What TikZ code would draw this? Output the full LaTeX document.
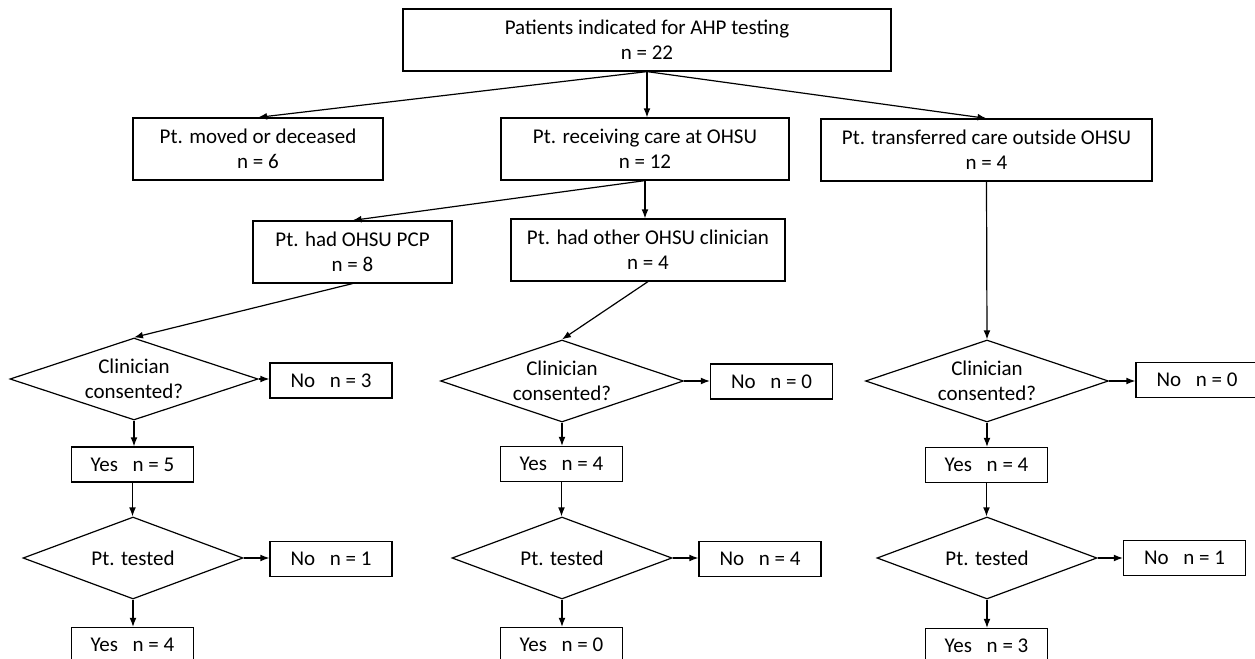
\documentclass[tikz,border=0pt]{standalone}
\usepackage{fontspec}
\setmainfont{Carlito}
\usetikzlibrary{shapes.geometric}
\usetikzlibrary{arrows.meta}

\tikzset{
  flowbox/.style={draw, line width=0.6pt, inner sep=0pt, align=center,
    minimum height=31pt, font=\fontsize{10.5}{12.5}\selectfont},
  smallbox/.style={draw, line width=0.6pt, inner sep=0pt,
    minimum width=61pt, minimum height=17.5pt, font=\fontsize{10.5}{12.5}\selectfont},
  decide/.style={draw, diamond, aspect=3, line width=0.6pt, inner sep=0pt, align=center,
    minimum height=41pt, font=\fontsize{10.5}{12.5}\selectfont},
}

\begin{document}
\begin{tikzpicture}[x=0.5pt,y=-0.5pt]
  \useasboundingbox (0,0) rectangle (1255,659);
  \begin{scope}[line width=0.6pt, >={Latex[length=4.5pt,width=3.4pt]}]
  \node[flowbox, minimum width=244pt] (all) at (647,40) {Patients indicated for AHP testing\\n = 22};
  \node[flowbox, minimum width=125pt] (moved) at (258,149) {Pt. moved or deceased\\n = 6};
  \node[flowbox, minimum width=144pt] (recv) at (645,149) {Pt. receiving care at OHSU\\n = 12};
  \node[flowbox, minimum width=165.5pt] (transf) at (986.5,150) {Pt. transferred care outside OHSU\\n = 4};
  \node[flowbox, minimum width=99.5pt] (pcp) at (352.5,252) {Pt. had OHSU PCP\\n = 8};
  \node[flowbox, minimum width=137pt] (other) at (648,250) {Pt. had other OHSU clinician\\n = 4};

  \node[decide, minimum width=124pt] (consL) at (134,379) {Clinician\\consented?};
  \node[decide, minimum width=121.5pt] (consM) at (562,381) {Clinician\\consented?};
  \node[decide, minimum width=121.5pt] (consR) at (987,381) {Clinician\\consented?};
  \node[smallbox] (noconsL) at (331,380.5) {No\hspace{0.7em}n = 3};
  \node[smallbox] (noconsM) at (771.5,381.5) {No\hspace{0.7em}n = 0};
  \node[smallbox] (noconsR) at (1197,380) {No\hspace{0.7em}n = 0};
  \node[smallbox] (yesconsL) at (132.5,464.5) {Yes\hspace{0.7em}n = 5};
  \node[smallbox] (yesconsM) at (561.5,464) {Yes\hspace{0.7em}n = 4};
  \node[smallbox] (yesconsR) at (986.5,465) {Yes\hspace{0.7em}n = 4};

  \node[decide, minimum width=110pt] (testL) at (133,558) {Pt. tested};
  \node[decide, minimum width=110pt] (testM) at (562,558) {Pt. tested};
  \node[decide, minimum width=110pt] (testR) at (987,558) {Pt. tested};
  \node[smallbox] (notestL) at (331,559) {No\hspace{0.7em}n = 1};
  \node[smallbox] (notestM) at (760,559) {No\hspace{0.7em}n = 4};
  \node[smallbox] (notestR) at (1184.5,558) {No\hspace{0.7em}n = 1};
  \node[smallbox] (yestestL) at (132.5,645) {Yes\hspace{0.7em}n = 4};
  \node[smallbox] (yestestM) at (561.5,645) {Yes\hspace{0.7em}n = 0};
  \node[smallbox] (yestestR) at (986.5,646) {Yes\hspace{0.7em}n = 3};

  \draw[->] (all.south) -- (moved.north);
  \draw[->] (all.south) -- (all.south |- recv.north);
  \draw[->] (all.south) -- (transf.north);
  \draw[->] (recv.south) -- (pcp.north);
  \draw[->] (recv.south) -- (recv.south |- other.north);
  \draw[->] (pcp.south) -- (consL.north);
  \draw[->] (other.south) -- (consM.north);
  \draw[->] (transf.south) -- (consR.north);

  \draw[->] (consL.east) -- (consL.east -| noconsL.west);
  \draw[->] (consM.east) -- (consM.east -| noconsM.west);
  \draw[->] (consR.east) -- (consR.east -| noconsR.west);
  \draw[->] (consL.south) -- (consL.south |- yesconsL.north);
  \draw[->] (consM.south) -- (consM.south |- yesconsM.north);
  \draw[->] (consR.south) -- (consR.south |- yesconsR.north);
  \draw[->] (yesconsL.south) -- (yesconsL.south |- testL.north);
  \draw[->] (yesconsM.south) -- (yesconsM.south |- testM.north);
  \draw[->] (yesconsR.south) -- (yesconsR.south |- testR.north);

  \draw[->] (testL.east) -- (testL.east -| notestL.west);
  \draw[->] (testM.east) -- (testM.east -| notestM.west);
  \draw[->] (testR.east) -- (testR.east -| notestR.west);
  \draw[->] (testL.south) -- (testL.south |- yestestL.north);
  \draw[->] (testM.south) -- (testM.south |- yestestM.north);
  \draw[->] (testR.south) -- (testR.south |- yestestR.north);
  \end{scope}
\end{tikzpicture}
\end{document}
